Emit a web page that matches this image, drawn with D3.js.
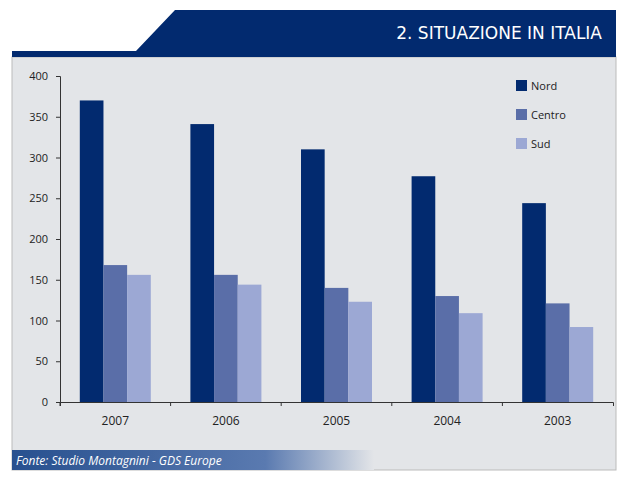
<!DOCTYPE html><html><head><meta charset="utf-8"><script src="https://cdn.jsdelivr.net/npm/d3@7"></script>
<style>body{margin:0;background:#fff}</style></head><body><svg id="c" width="624" height="480"></svg>
<script>
const categories=["2007","2006","2005","2004","2003"];
const seriesNames=["Nord","Centro","Sud"];
const nord=[370,341,310,277,244];
const centro=[168,156,140,130,121];
const sud=[156,144,123,109,92];
const yTicks=[0,50,100,150,200,250,300,350,400];
const colors=["#022a6f","#5a6ea8","#9ca8d4"];
const svg=d3.select("#c");
const defs=svg.append("defs");
const g1=defs.append("linearGradient").attr("id","fg");
g1.append("stop").attr("offset","0").attr("stop-color","#27508f");
g1.append("stop").attr("offset","0.7").attr("stop-color","#5a7ab0");
g1.append("stop").attr("offset","1").attr("stop-color","#e3e5e8");
svg.append("rect").attr("x",12).attr("y",57).attr("width",604).attr("height",413).attr("fill","#e3e5e8").attr("stroke","#bbb");
svg.append("path").attr("d","M175,10 L616,10 L616,57 L12,57 L12,51 L136,51 Z").attr("fill","#022a6f");
svg.append("text").attr("x",602).attr("y",39).attr("text-anchor","end").attr("fill","#fff").attr("font-family","DejaVu Sans").attr("font-size",17).text("2. SITUAZIONE IN ITALIA");
svg.append("rect").attr("x",12).attr("y",450).attr("width",362).attr("height",20).attr("fill","url(#fg)");
svg.append("text").attr("x",16).attr("y",465).attr("fill","#fff").attr("font-family","Open Sans").attr("font-style","italic").attr("font-size",12).text("Fonte: Studio Montagnini - GDS Europe");
const x=d3.scaleBand().domain(categories).range([60,613]);
const y=d3.scaleLinear().domain([0,400]).range([402,76]);
const ser=d3.scaleBand().domain(seriesNames).range([0,71]);
const data=[nord,centro,sud];
const ff="Open Sans";
seriesNames.forEach((s,i)=>{
 svg.append("g").selectAll("rect").data(data[i]).join("rect")
 .attr("x",(d,j)=>x(categories[j])+x.bandwidth()/2-35.5+ser(s)).attr("width",ser.bandwidth())
 .attr("y",d=>y(d)).attr("height",d=>y(0)-y(d)).attr("fill",colors[i]);
});
const ya=svg.append("g").attr("transform","translate(60,0)").call(d3.axisLeft(y).tickValues(yTicks).tickSize(4).tickPadding(8));
const xa=svg.append("g").attr("transform","translate(0,402)").call(d3.axisBottom(x).tickSize(4).tickPadding(10));
xa.selectAll(".tick line").attr("x1",-x.bandwidth()/2).attr("x2",-x.bandwidth()/2);
[ya,xa].forEach(a=>{a.selectAll("text").attr("font-family",ff).attr("font-size",11).attr("fill","#222");a.selectAll("line,path").attr("stroke","#333");});
xa.selectAll("text").attr("font-size",12);
const lg=svg.append("g").selectAll("g").data(seriesNames).join("g").attr("transform",(d,i)=>`translate(516,${80+i*29})`);
lg.append("rect").attr("width",11).attr("height",11).attr("fill",(d,i)=>colors[i]);
lg.append("text").attr("x",15).attr("y",10).attr("font-family",ff).attr("font-size",11).attr("fill","#222").text(d=>d);
</script></body></html>
